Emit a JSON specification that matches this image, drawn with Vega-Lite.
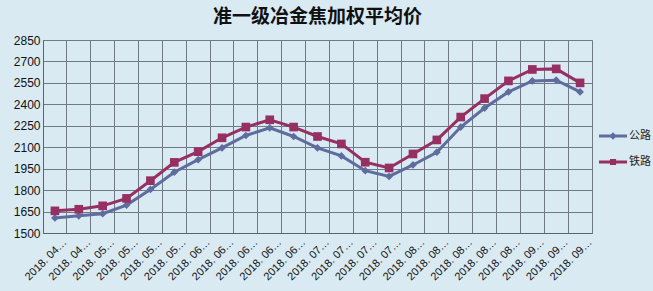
{
  "$schema": "https://vega.github.io/schema/vega-lite/v6.json",
  "width": 549,
  "height": 193,
  "autosize": {"type": "none"},
  "padding": {"left": 43, "top": 40, "right": 61, "bottom": 58},
  "background": "#D9EAF3",
  "title": {
    "text": "准一级冶金焦加权平均价",
    "font": "Noto Sans CJK SC",
    "fontSize": 19,
    "fontWeight": "bold",
    "color": "#111111",
    "anchor": "middle",
    "offset": 7
  },
  "config": {
    "view": {"stroke": "#6F7A84", "strokeWidth": 1},
    "axis": {
      "labelFont": "Liberation Sans",
      "labelColor": "#111111",
      "gridColor": "#6F7A84",
      "gridOpacity": 1,
      "gridWidth": 1,
      "domainColor": "#5A646E",
      "ticks": false,
      "title": null
    }
  },
  "data": {
    "values": [
      {"date": "2018.04.20", "series": "公路", "price": 1605},
      {"date": "2018.04.27", "series": "公路", "price": 1620},
      {"date": "2018.05.04", "series": "公路", "price": 1635},
      {"date": "2018.05.11", "series": "公路", "price": 1695},
      {"date": "2018.05.18", "series": "公路", "price": 1805},
      {"date": "2018.05.25", "series": "公路", "price": 1925},
      {"date": "2018.06.01", "series": "公路", "price": 2013},
      {"date": "2018.06.08", "series": "公路", "price": 2095},
      {"date": "2018.06.15", "series": "公路", "price": 2182},
      {"date": "2018.06.22", "series": "公路", "price": 2236},
      {"date": "2018.06.29", "series": "公路", "price": 2175},
      {"date": "2018.07.06", "series": "公路", "price": 2095},
      {"date": "2018.07.13", "series": "公路", "price": 2039},
      {"date": "2018.07.20", "series": "公路", "price": 1936},
      {"date": "2018.07.27", "series": "公路", "price": 1896},
      {"date": "2018.08.03", "series": "公路", "price": 1976},
      {"date": "2018.08.10", "series": "公路", "price": 2065},
      {"date": "2018.08.17", "series": "公路", "price": 2241},
      {"date": "2018.08.24", "series": "公路", "price": 2374},
      {"date": "2018.08.31", "series": "公路", "price": 2487},
      {"date": "2018.09.07", "series": "公路", "price": 2564},
      {"date": "2018.09.14", "series": "公路", "price": 2569},
      {"date": "2018.09.21", "series": "公路", "price": 2487},
      {"date": "2018.04.20", "series": "铁路", "price": 1655},
      {"date": "2018.04.27", "series": "铁路", "price": 1666},
      {"date": "2018.05.04", "series": "铁路", "price": 1690},
      {"date": "2018.05.11", "series": "铁路", "price": 1742},
      {"date": "2018.05.18", "series": "铁路", "price": 1866},
      {"date": "2018.05.25", "series": "铁路", "price": 1994},
      {"date": "2018.06.01", "series": "铁路", "price": 2069},
      {"date": "2018.06.08", "series": "铁路", "price": 2166},
      {"date": "2018.06.15", "series": "铁路", "price": 2241},
      {"date": "2018.06.22", "series": "铁路", "price": 2292},
      {"date": "2018.06.29", "series": "铁路", "price": 2241},
      {"date": "2018.07.06", "series": "铁路", "price": 2175},
      {"date": "2018.07.13", "series": "铁路", "price": 2123},
      {"date": "2018.07.20", "series": "铁路", "price": 1995},
      {"date": "2018.07.27", "series": "铁路", "price": 1955},
      {"date": "2018.08.03", "series": "铁路", "price": 2053},
      {"date": "2018.08.10", "series": "铁路", "price": 2151},
      {"date": "2018.08.17", "series": "铁路", "price": 2311},
      {"date": "2018.08.24", "series": "铁路", "price": 2440},
      {"date": "2018.08.31", "series": "铁路", "price": 2564},
      {"date": "2018.09.07", "series": "铁路", "price": 2644},
      {"date": "2018.09.14", "series": "铁路", "price": 2648},
      {"date": "2018.09.21", "series": "铁路", "price": 2550}
    ]
  },
  "encoding": {
    "x": {
      "field": "date",
      "type": "ordinal",
      "sort": null,
      "scale": {"type": "band", "paddingInner": 0, "paddingOuter": 0},
      "axis": {
        "labelAngle": -45,
        "labelFontSize": 11,
        "labelExpr": "slice(datum.label,0,5)+' '+slice(datum.label,5,7)+'…'",
        "grid": true,
        "bandPosition": 0,
        "labelPadding": 3,
        "labelOffset": 6
      }
    },
    "y": {
      "field": "price",
      "type": "quantitative",
      "scale": {"domain": [1500, 2850], "nice": false, "zero": false},
      "axis": {
        "values": [1500, 1650, 1800, 1950, 2100, 2250, 2400, 2550, 2700, 2850],
        "format": "d",
        "labelFontSize": 12,
        "grid": true,
        "labelPadding": 3
      }
    },
    "color": {
      "field": "series",
      "type": "nominal",
      "scale": {"domain": ["公路", "铁路"], "range": ["#5E6C9E", "#963062"]},
      "legend": {
        "orient": "none",
        "legendX": 556,
        "legendY": 82,
        "title": null,
        "padding": 0,
        "symbolSize": 784,
        "rowPadding": 7,
        "labelFont": "Noto Sans CJK SC",
        "labelFontSize": 11,
        "labelColor": "#222222",
        "labelOffset": 2,
        "encode": {
          "symbols": {
            "update": {
              "shape": {"signal": "datum.value === '公路' ? 'M-1,-0.1L1,-0.1L1,0.1L-1,0.1Z M0,-0.27L0.27,0L0,0.27L-0.27,0Z' : 'M-1,-0.1L1,-0.1L1,0.1L-1,0.1Z M-0.22,-0.22L0.22,-0.22L0.22,0.22L-0.22,0.22Z'"},
              "fill": {"signal": "datum.value === '公路' ? '#5E6C9E' : '#963062'"},
              "fillOpacity": {"value": 1},
              "strokeWidth": {"value": 0},
              "opacity": {"value": 1}
            }
          }
        }
      }
    }
  },
  "layer": [
    {
      "mark": {"type": "line", "strokeWidth": 3}
    },
    {
      "transform": [{"filter": "datum.series === '公路'"}],
      "mark": {"type": "point", "filled": true, "opacity": 1, "shape": "diamond", "size": 60}
    },
    {
      "transform": [{"filter": "datum.series === '铁路'"}],
      "mark": {"type": "point", "filled": true, "opacity": 1, "shape": "square", "size": 75}
    }
  ]
}
